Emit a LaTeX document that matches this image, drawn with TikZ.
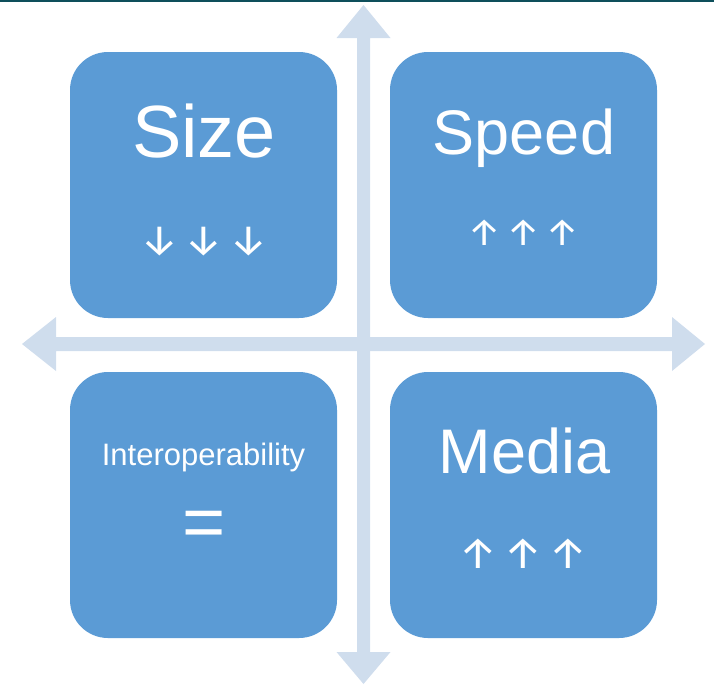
\documentclass[tikz,border=0pt]{standalone}
\usepackage{fontspec}
\setmainfont{Liberation Sans}
\newfontfamily\arrowfont{Fira Sans}
\definecolor{boxblue}{HTML}{5B9BD5}
\definecolor{axisblue}{RGB}{207,221,237}
\definecolor{topline}{HTML}{0E4F5B}
\tikzset{
  quad/.style={fill=boxblue, draw=none, rounded corners=38pt, minimum width=267pt, minimum height=266pt, inner sep=0pt},
  bigtxt/.style={text=white, inner sep=0pt, anchor=base, font=\fontsize{74}{80}\selectfont},
  midtxt/.style={text=white, inner sep=0pt, anchor=base, font=\fontsize{63}{70}\selectfont},
  smalltxt/.style={text=white, inner sep=0pt, anchor=base, font=\fontsize{31}{36}\selectfont},
  arr/.style={text=white, inner sep=0pt, anchor=base, font=\arrowfont\fontsize{43}{48}\selectfont},
  arrs/.style={text=white, inner sep=0pt, anchor=base, font=\arrowfont\fontsize{38}{42}\selectfont},
  arrm/.style={text=white, inner sep=0pt, anchor=base, font=\arrowfont\fontsize{44}{48}\selectfont},
  axis/.style={fill=axisblue, draw=none}
}
\begin{document}
\begin{tikzpicture}[x=1pt,y=-1pt]
\useasboundingbox (0,0) rectangle (714,686);
\fill[topline] (0,0) rectangle (714,2);
% axes
\fill[axis] (363.5,5) -- (390.5,38) -- (370,38) -- (370,652) -- (390.5,652) -- (363.5,684) -- (336.5,652) -- (357,652) -- (357,38) -- (336.5,38) -- cycle;
\fill[axis] (22,344) -- (56,317) -- (56,337) -- (672,337) -- (672,317) -- (705,344) -- (672,371) -- (672,351) -- (56,351) -- (56,371) -- cycle;
% boxes
\node[quad] (size) at (203.5,185) {};
\node[quad] (speed) at (523.5,185) {};
\node[quad] (interop) at (203.5,505) {};
\node[quad] (media) at (523.5,505) {};
% texts
\node[bigtxt] (sizet) at (204,157) {Size};
\node[midtxt] (speedt) at (524,154) {Speed};
\node[midtxt] (mediat) at (524.5,473) {Media};
\node[smalltxt] (interopt) at (203.5,465) {Interoperability};
\node[bigtxt] (eqt) at (204,547) {=};
\node[arr] (sa1) at (160,254) {↓};
\node[arr] (sa2) at (204,254) {↓};
\node[arr] (sa3) at (249,254) {↓};
\node[arrs] (pa1) at (485,245) {↑};
\node[arrs] (pa2) at (524,245) {↑};
\node[arrs] (pa3) at (562.5,245) {↑};
\node[arrm] (ma1) at (478.5,568) {↑};
\node[arrm] (ma2) at (523.5,568) {↑};
\node[arrm] (ma3) at (568.5,568) {↑};
\end{tikzpicture}
\end{document}
